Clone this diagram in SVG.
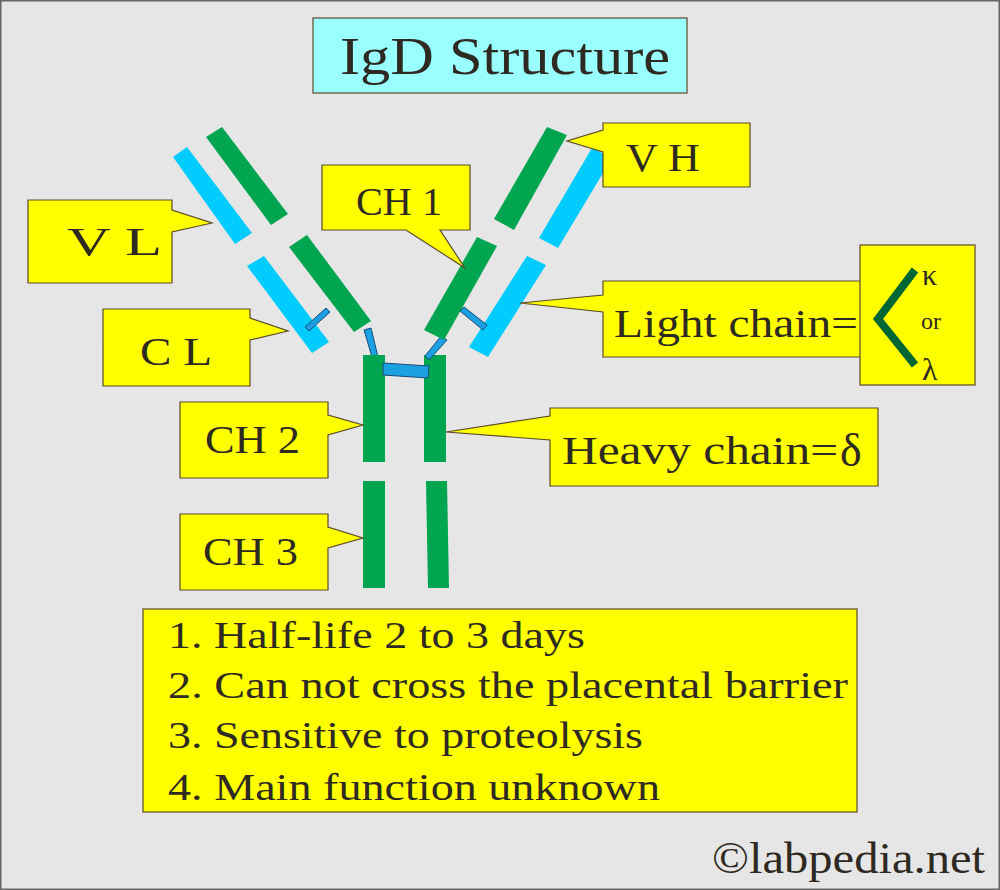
<svg xmlns="http://www.w3.org/2000/svg" width="1000" height="890" viewBox="0 0 1000 890">
<style>
.bx{fill:#FFFF00;stroke:#5a4a2a;stroke-width:1.2}
.t{font-family:'Liberation Serif','DejaVu Serif Condensed',serif;font-stretch:condensed;fill:#2e2a22}
.g{fill:#00A550}
.c{fill:#00CCFF}
.l{fill:#1BA1E2;stroke:#1a4a7a;stroke-width:1}
</style>
<rect x="0" y="0" width="1000" height="890" fill="#E6E6E6" stroke="#666" stroke-width="3"/>
<g id="title"><rect x="313" y="18" width="374" height="75" fill="#99FFFF" stroke="#5a4a2a" stroke-width="1.2"/><text class="t" x="340" y="74" font-size="52" textLength="330" lengthAdjust="spacingAndGlyphs">IgD Structure</text></g>
<g id="antibody">
<polygon class="c" points="173,157 187,147 252,233 235,244"/>
<polygon class="g" points="206,137 222,127 288,214 271,225"/>
<polygon class="c" points="247,266 264,256 329,342 312,353"/>
<polygon class="g" points="289,247 307,235 371,321 354,332"/>
<polygon class="l" points="305,327 309,331 330,312 326,308"/>
<polygon class="l" points="364,330 371,328 378,357 372,357"/>
<rect class="g" x="363" y="355" width="22" height="107"/>
<rect class="g" x="424" y="355" width="22" height="107"/>
<rect class="g" x="363" y="481" width="22" height="107"/>
<polygon class="g" points="426,481 447,481 449,588 428,588"/>
<polygon class="l" points="383,363 429,366 428,378 383,375"/>
<polygon class="l" points="425,356 441,336 447,340 429,360"/>
<polygon class="g" points="424,330 477,237 497,246 444,340"/>
<polygon class="g" points="494,219 547,127 567,135 514,230"/>
<polygon class="c" points="539,238 592,148 612,158 558,248"/>
<polygon class="c" points="469,347 527,256 546,265 488,357"/>
<polygon class="l" points="460,311 464,307 487,325 483,330"/>
</g>
<g id="VH"><path class="bx" d="M603,123 H750 V187 H603 V152 L567,141 L603,130 Z"/><text class="t" x="626" y="171" font-size="40" textLength="74" lengthAdjust="spacingAndGlyphs">V H</text></g>
<g id="VL"><path class="bx" d="M28,200 H172 V210 L212,223 L172,232 V283 H28 Z"/><text class="t" x="67" y="255" font-size="40" textLength="95" lengthAdjust="spacingAndGlyphs">V L</text></g>
<g id="CH1"><path class="bx" d="M322,165 H470 V230 H440 L465,268 L406,230 H322 Z"/><text class="t" x="356" y="215" font-size="40" textLength="86" lengthAdjust="spacingAndGlyphs">CH 1</text></g>
<g id="CL"><path class="bx" d="M103,309 H250 V318 L288,331 L250,340 V386 H103 Z"/><text class="t" x="140" y="365" font-size="40" textLength="72" lengthAdjust="spacingAndGlyphs">C L</text></g>
<g id="LC"><path class="bx" d="M603,281 H868 V357 H603 V312 L520,303 L603,295 Z"/><text class="t" x="614" y="337" font-size="40" textLength="244" lengthAdjust="spacingAndGlyphs">Light chain=</text></g>
<g id="kl"><rect class="bx" x="860" y="245" width="115" height="140"/><polyline points="915,270 878,319 915,365" fill="none" stroke="#006633" stroke-width="8"/><text class="t" x="922" y="285" font-size="30">κ</text><text class="t" x="921" y="329" font-size="24">or</text><text class="t" x="922" y="380" font-size="32">λ</text></g>
<g id="CH2"><path class="bx" d="M180,402 H328 V415 L363,425 L328,435 V478 H180 Z"/><text class="t" x="205" y="453" font-size="40" textLength="95" lengthAdjust="spacingAndGlyphs">CH 2</text></g>
<g id="HC"><path class="bx" d="M550,408 H878 V486 H550 V440 L446,432 L550,416 Z"/><text class="t" x="562" y="464" font-size="40" textLength="276" lengthAdjust="spacingAndGlyphs">Heavy chain=</text><text class="t" x="840" y="466" font-size="46">δ</text></g>
<g id="CH3"><path class="bx" d="M180,514 H328 V527 L363,538 L328,548 V590 H180 Z"/><text class="t" x="203" y="565" font-size="40" textLength="95" lengthAdjust="spacingAndGlyphs">CH 3</text></g>
<g id="list"><rect class="bx" x="143" y="609" width="714" height="203"/>
<text class="t" x="168" y="648" font-size="38" textLength="417" lengthAdjust="spacingAndGlyphs">1. Half-life 2 to 3 days</text>
<text class="t" x="168" y="698" font-size="38" textLength="680" lengthAdjust="spacingAndGlyphs">2. Can not cross the placental barrier</text>
<text class="t" x="168" y="748" font-size="38" textLength="475" lengthAdjust="spacingAndGlyphs">3. Sensitive to proteolysis</text>
<text class="t" x="168" y="800" font-size="38" textLength="492" lengthAdjust="spacingAndGlyphs">4. Main function unknown</text></g>
<text class="t" x="712" y="873" font-size="44" textLength="273" lengthAdjust="spacingAndGlyphs">©labpedia.net</text>
</svg>
